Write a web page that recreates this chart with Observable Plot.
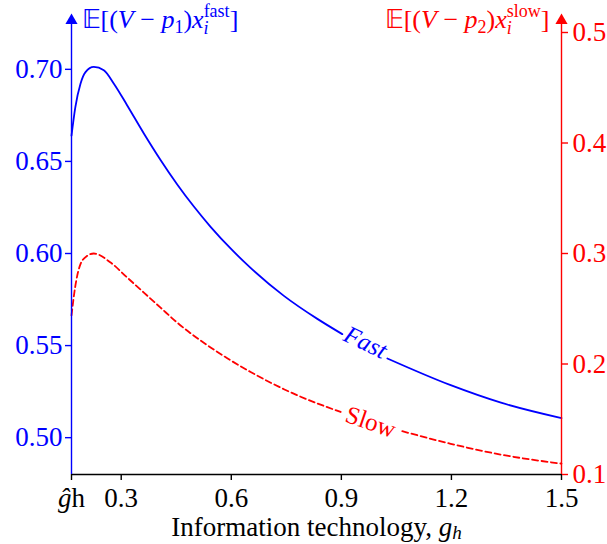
<!DOCTYPE html>
<html><head><meta charset="utf-8">
<script src="https://cdn.jsdelivr.net/npm/d3@7"></script>
<script src="https://cdn.jsdelivr.net/npm/@observablehq/plot@0.6"></script>
<style>body{margin:0;background:#fff} svg{display:block}</style>
</head><body><div id="chart"></div>
<script>
// ---- data ----
const gHat = 0.1645;
const fastX = [0.1645, 0.175, 0.189, 0.2027, 0.2253, 0.2526, 0.280, 0.3164, 0.3617, 0.4072, 0.4527, 0.498, 0.5436, 0.6027, 0.6526, 0.7434, 0.8346, 0.9027, 1.0255, 1.198, 1.335, 1.5];
const fastY = [0.664, 0.6795, 0.6922, 0.6985, 0.7013, 0.6995, 0.6922, 0.6804, 0.6652, 0.6508, 0.6375, 0.6255, 0.6145, 0.6018, 0.5922, 0.5770, 0.5645, 0.5562, 0.5430, 0.5285, 0.5190, 0.5106];
const fastSeg = [1,1,1,1,1,1,1,1,1,1,1,1,1,1,1,1,1,1,2,2,2,2];
const slowX = [0.1645, 0.175, 0.189, 0.2073, 0.2253, 0.271, 0.3164, 0.3617, 0.4072, 0.4527, 0.498, 0.5436, 0.589, 0.6526, 0.7434, 0.789, 0.898, 1.066, 1.198, 1.335, 1.5];
const slowY = [0.244, 0.2707, 0.2904, 0.2979, 0.300, 0.2918, 0.2782, 0.2646, 0.251, 0.2374, 0.2256, 0.2150, 0.2052, 0.1928, 0.1772, 0.1704, 0.1566, 0.1392, 0.1278, 0.1180, 0.1098];
const slowSeg = [1,1,1,1,1,1,1,1,1,1,1,1,1,1,1,1,1,2,2,2,2];
const xTicks = [gHat, 0.3, 0.6, 0.9, 1.2, 1.5];
const leftTicks = [0.50, 0.55, 0.60, 0.65, 0.70];
const rightTicks = [0.1, 0.2, 0.3, 0.4, 0.5];
const leftDomain = [0.48, 0.72];
const rightDomain = [0.1, 0.5];
const xDomain = [gHat, 1.5];
const labelText = ["Fast", "Slow"];
const labelX = [0.966, 0.980];
const labelYFast = 0.5517;   // left axis units
const labelYSlow = 0.1474;   // right axis units
const xLabel = "Information technology, ";
const leftTitleSub = "1", leftTitleSup = "fast";
const rightTitleSub = "2", rightTitleSup = "slow";

// ---- build ----
const toLeft = d3.scaleLinear().domain(rightDomain).range(leftDomain);
const fast = fastX.map((x, i) => ({x, y: fastY[i], seg: fastSeg[i]}));
const slow = slowX.map((x, i) => ({x, y: toLeft(slowY[i]), seg: slowSeg[i]}));
const arrowY = leftDomain[1] + 0.0065;
const BLUE = "#0000ff", RED = "#ff0000";
const font = "Liberation Serif, Times New Roman, serif";

const svg = Plot.plot({
  width: 607, height: 544,
  marginLeft: 71, marginRight: 46, marginTop: 32, marginBottom: 70,
  style: {fontFamily: font, background: "white"},
  x: {domain: xDomain},
  y: {domain: leftDomain},
  marks: [
    Plot.line(fast, {x: "x", y: "y", z: "seg", stroke: BLUE, strokeWidth: 1.8, curve: "monotone-x"}),
    Plot.line(slow, {x: "x", y: "y", z: "seg", stroke: RED, strokeWidth: 1.8, strokeDasharray: "6,3.5", curve: "monotone-x"}),
    Plot.text([labelText[0]], {x: () => labelX[0], y: () => labelYFast, text: d => d, fill: BLUE, fontSize: 25, fontStyle: "italic", rotate: 26}),
    Plot.text([labelText[1]], {x: () => labelX[1], y: () => toLeft(labelYSlow), text: d => d, fill: RED, fontSize: 25, rotate: 19}),
    // spines
    Plot.ruleY([leftDomain[0]], {x1: xDomain[0], x2: xDomain[1], stroke: "black", strokeWidth: 1.4}),
    Plot.ruleX([xDomain[0]], {y1: leftDomain[0], y2: arrowY, stroke: BLUE, strokeWidth: 1.4}),
    Plot.ruleX([xDomain[1]], {y1: leftDomain[0], y2: arrowY, stroke: RED, strokeWidth: 1.4}),
    Plot.dot([xDomain[0]], {x: d => d, y: () => arrowY, symbol: "triangle", r: 4.5, fill: BLUE, stroke: null}),
    Plot.dot([xDomain[1]], {x: d => d, y: () => arrowY, symbol: "triangle", r: 4.5, fill: RED, stroke: null}),
    // axes
    Plot.axisX(xTicks, {anchor: "bottom", tickFormat: d => d === gHat ? "GHATMARK" : d3.format(".1f")(d), tickSize: 6, tickPadding: 7, fontSize: 27, color: "black", label: null, strokeWidth: 1.4}),
    Plot.axisY(leftTicks, {anchor: "left", tickFormat: d3.format(".2f"), tickSize: 6, tickPadding: 3, fontSize: 27, color: BLUE, label: null, strokeWidth: 1.4}),
    Plot.axisY(rightTicks.map(toLeft), {anchor: "right", tickFormat: d => d3.format(".1f")(toLeft.invert(d)), tickSize: 6, tickPadding: 5, fontSize: 27, color: RED, label: null, strokeWidth: 1.4}),
    // axis label and titles
    Plot.text(["XLABELMARK"], {frameAnchor: "bottom", dy: 61, lineAnchor: "bottom", fontSize: 27, fill: "black", text: d => d}),
    Plot.text(["LTITLEMARK"], {frameAnchor: "top-left", dx: 10, dy: -5, lineAnchor: "bottom", textAnchor: "start", fontSize: 26, fill: BLUE, text: d => d}),
    Plot.text(["RTITLEMARK"], {frameAnchor: "top-right", dx: -12, dy: -5, lineAnchor: "bottom", textAnchor: "end", fontSize: 26, fill: RED, text: d => d})
  ]
});

function title(sub, sup) {
  return `\u{1D53C}[(<tspan font-style="italic">V</tspan> \u2212 <tspan font-style="italic">p</tspan>` +
    `<tspan font-size="18" dy="5">${sub}</tspan><tspan dy="-5">)</tspan>` +
    `<tspan font-style="italic">x</tspan><tspan font-style="italic" font-size="18" dy="6">i</tspan>` +
    `<tspan font-size="18" dx="-5" dy="-17">${sup}</tspan><tspan dy="11">]</tspan>`;
}
svg.querySelectorAll("text").forEach(t => {
  const s = t.textContent;
  if (s === "GHATMARK") t.innerHTML = `<tspan font-style="italic">\u011D</tspan>h`;
  else if (s === "XLABELMARK") t.innerHTML = `${xLabel}<tspan font-style="italic">g</tspan><tspan font-style="italic" font-size="19" dy="3">h</tspan>`;
  else if (s === "LTITLEMARK") t.innerHTML = title(leftTitleSub, leftTitleSup);
  else if (s === "RTITLEMARK") t.innerHTML = title(rightTitleSub, rightTitleSup);
});
document.getElementById("chart").appendChild(svg);
</script>
</body></html>
